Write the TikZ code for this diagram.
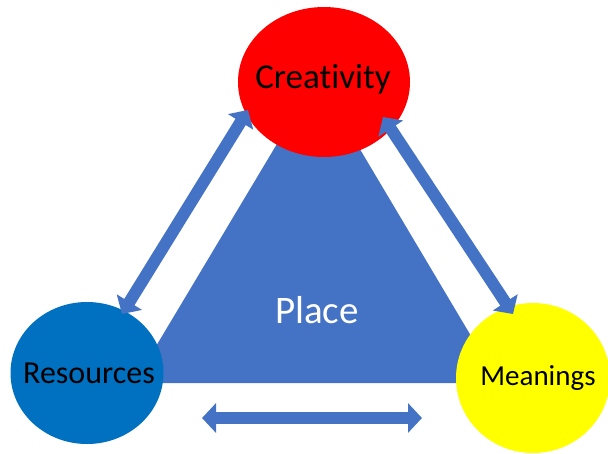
\documentclass[tikz,border=0pt]{standalone}
\usepackage{fontspec}
\setmainfont{Carlito}[Ligatures=NoCommon]
\usetikzlibrary{arrows.meta}
\usetikzlibrary{shapes.geometric}
\definecolor{placeblue}{HTML}{4472C4}
\definecolor{resblue}{HTML}{0070C0}
\definecolor{crered}{HTML}{FF0000}
\definecolor{meanyellow}{HTML}{FFFF00}
\tikzset{
	blob/.style={ellipse, inner sep=0pt},
	blobtext/.style={anchor=base, text=black},
	link/.style={draw=placeblue, line width=12pt, {Triangle[length=14pt,width=29pt]}-{Triangle[length=14pt,width=29pt]}},
}

\begin{document}
\begin{tikzpicture}[x=1pt,y=-1pt]
					\useasboundingbox (0,0) rectangle (608,453);
					
					% Place
					\coordinate (apex) at (317,77);
					\coordinate (bl) at (134,383);
					\coordinate (br) at (499,383);
					\fill[placeblue] (apex) -- (bl) -- (br) -- cycle;
					\node[anchor=base, text=white, font=\fontsize{39}{44}\selectfont] (place) at (317,323) {Place};
					
					% circles
					\node[blob, fill=crered, minimum width=172pt, minimum height=150pt] (cre) at (324,82) {};
					\node[blob, fill=resblue, minimum width=153pt, minimum height=142pt] (res) at (87,373) {};
					\node[blob, fill=meanyellow, minimum width=154pt, minimum height=150pt] (mea) at (533,378) {};
					
					\node[blobtext, font=\fontsize{35}{40}\selectfont] (crelbl) at (323,88) {Creativity};
					\node[blobtext, font=\fontsize{32}{36}\selectfont] (reslbl) at (89,383) {Resources};
					\node[blobtext, font=\fontsize{29}{33}\selectfont] (mealbl) at (538,385) {Meanings};
					
					% links
					\coordinate (rc1) at (122,314);
					\coordinate (rc2) at (248,110);
					\coordinate (cm1) at (383,117);
					\coordinate (cm2) at (513,314);
					\coordinate (rm1) at (202,418);
					\coordinate (rm2) at (422,418);
					\draw[link] (rc1) -- (rc2);
					\draw[link] (cm1) -- (cm2);
					\draw[link] (rm1) -- (rm2);
					
\end{tikzpicture}
\end{document}
